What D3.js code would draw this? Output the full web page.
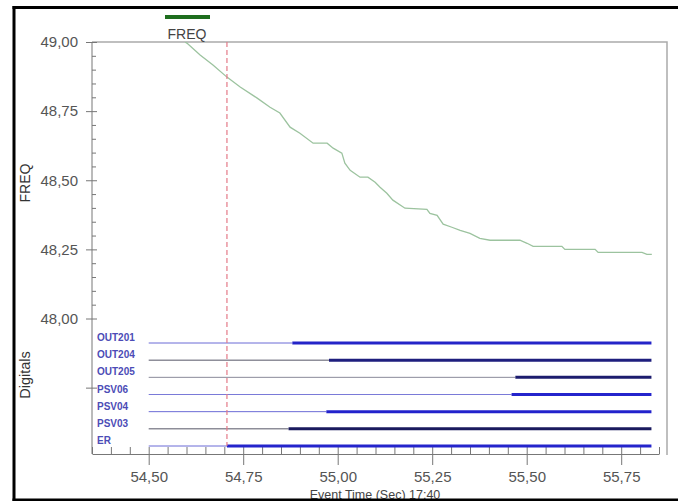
<!DOCTYPE html>
<html>
<head>
<meta charset="utf-8">
<script src="https://cdn.jsdelivr.net/npm/d3@7"></script>
<style>
  body { margin: 0; background: #fff; }
  svg { display: block; font-family: "Liberation Sans", Arial, sans-serif; }
</style>
</head>
<body>
<svg id="chart" width="678" height="501"></svg>
<script>
// frequency trace (sec, Hz)
const freqTime = [54.596, 54.601, 54.636, 54.670, 54.707, 54.742, 54.787, 54.821, 54.847, 54.874,
  54.900, 54.935, 54.972, 54.988, 55.011, 55.019, 55.033, 55.059, 55.080, 55.099,
  55.112, 55.130, 55.146, 55.178, 55.236, 55.244, 55.263, 55.279, 55.302, 55.324,
  55.350, 55.376, 55.403, 55.482, 55.501, 55.517, 55.593, 55.601, 55.681, 55.689,
  55.805, 55.818, 55.831];
const freqValue = [49.000, 48.996, 48.953, 48.917, 48.873, 48.837, 48.797, 48.764, 48.743, 48.692,
  48.670, 48.634, 48.634, 48.616, 48.598, 48.562, 48.536, 48.511, 48.511, 48.493,
  48.475, 48.453, 48.428, 48.399, 48.395, 48.380, 48.373, 48.341, 48.330, 48.319,
  48.308, 48.290, 48.283, 48.283, 48.272, 48.261, 48.261, 48.250, 48.250, 48.239,
  48.239, 48.232, 48.232];

// digital channels
const channels = ["OUT201", "OUT204", "OUT205", "PSV06", "PSV04", "PSV03", "ER"];
const channelOn = [54.88, 54.977, 55.47, 55.46, 54.97, 54.87, 54.707];
const channelOffColor = ["#6b6bd6", "#555566", "#8a8a99", "#7a7ad8", "#6b6bd6", "#555566", "#6b6bd6"];
const channelOnColor = ["#2424c8", "#1e1e7e", "#1c1c6e", "#2424cc", "#2222cc", "#1a1a5e", "#2424cc"];
const traceStart = 54.5;
const traceEnd = 55.83;
const cursorTime = 54.707;

const xMajor = [54.5, 54.75, 55.0, 55.25, 55.5, 55.75];
const yMajor = [48.0, 48.25, 48.5, 48.75, 49.0];
const fmt = d => d3.format(".2f")(d).replace(".", ",");

const svg = d3.select("#chart");

const mLeft = 92, mRight = 659, plotRight = 667, plotTop = 42, plotBottom = 454;

const x = d3.scaleLinear().domain([54.35, 55.85]).range([mLeft, mRight]);
const y = d3.scaleLinear().domain([48, 49]).range([318.5, plotTop]);
const row = d3.scalePoint().domain(channels).range([343, 446]);

// plot frame
svg.append("path")
  .attr("d", `M${mLeft},${plotTop}H${plotRight}V${plotBottom + 1}`)
  .attr("fill", "none")
  .attr("stroke", "#aaa")
  .attr("stroke-width", 1.5);

svg.append("line")
  .attr("x1", mLeft).attr("x2", mLeft)
  .attr("y1", plotTop).attr("y2", plotBottom)
  .attr("stroke", "#777");

// y axis
const yMinor = d3.range(48.05, 49.0, 0.05).map(v => +v.toFixed(2))
  .filter(v => !yMajor.includes(v));

svg.append("g")
  .attr("transform", `translate(${mLeft},0)`)
  .call(d3.axisRight(y).tickValues(yMinor).tickSize(4).tickFormat(""))
  .call(g => g.select(".domain").remove())
  .call(g => g.selectAll("line").attr("stroke", "#777"));

svg.append("g")
  .attr("transform", `translate(${mLeft + 5},0)`)
  .call(d3.axisLeft(y).tickValues(yMajor.concat([47.75])).tickSize(11).tickPadding(8)
    .tickFormat(d => d < 48 ? "" : fmt(d)))
  .call(g => g.select(".domain").remove())
  .call(g => g.selectAll("line").attr("stroke", "#777"))
  .call(g => g.selectAll("text").attr("fill", "#555").style("font-size", "15px"));

// x axis
const xMinor = d3.range(54.35, 55.86, 0.05).map(v => +v.toFixed(2))
  .filter(v => !xMajor.includes(v));

svg.append("g")
  .attr("transform", `translate(0,${plotBottom})`)
  .call(d3.axisTop(x).tickValues(xMinor).tickSize(7).tickSizeOuter(0).tickFormat(""))
  .call(g => g.select(".domain").attr("stroke", "#777"))
  .call(g => g.selectAll("line").attr("stroke", "#777"));

svg.append("g")
  .attr("transform", `translate(0,${plotBottom - 7})`)
  .call(d3.axisBottom(x).tickValues(xMajor).tickSize(18).tickPadding(6).tickFormat(fmt))
  .call(g => g.select(".domain").remove())
  .call(g => g.selectAll("line").attr("stroke", "#777"))
  .call(g => g.selectAll("text").attr("fill", "#555").style("font-size", "15px"));

// frequency trace
svg.append("defs").append("clipPath").attr("id", "plotclip")
  .append("rect").attr("x", mLeft).attr("y", plotTop)
  .attr("width", plotRight - mLeft).attr("height", plotBottom - plotTop);

const line = d3.line().x(i => x(freqTime[i])).y(i => y(freqValue[i]));

svg.append("path")
  .attr("clip-path", "url(#plotclip)")
  .attr("d", line(d3.range(freqTime.length)))
  .attr("fill", "none")
  .attr("stroke", "#9cc39f")
  .attr("stroke-width", 1.3);

// digitals
const dig = svg.append("g");
channels.forEach((c, i) => {
  dig.append("line")
    .attr("x1", x(traceStart)).attr("x2", x(channelOn[i]))
    .attr("y1", row(c)).attr("y2", row(c))
    .attr("stroke", channelOffColor[i])
    .attr("stroke-width", 1);
  dig.append("line")
    .attr("x1", x(channelOn[i])).attr("x2", x(traceEnd))
    .attr("y1", row(c)).attr("y2", row(c))
    .attr("stroke", channelOnColor[i])
    .attr("stroke-width", 3);
  dig.append("text")
    .attr("x", 97)
    .attr("y", row(c) - 2)
    .attr("fill", "#4c4cb6")
    .style("font-size", "10px")
    .style("font-weight", "bold")
    .text(c);
});

// cursor
svg.append("line")
  .attr("x1", x(cursorTime)).attr("x2", x(cursorTime))
  .attr("y1", plotTop).attr("y2", row("ER"))
  .attr("stroke", "#e47a88")
  .attr("stroke-width", 1.2)
  .attr("stroke-dasharray", "5,3");

// legend
svg.append("rect")
  .attr("x", 165).attr("y", 15).attr("width", 45).attr("height", 4)
  .attr("fill", "#1e6e1e");
svg.append("text")
  .attr("x", 187).attr("y", 38.5)
  .attr("text-anchor", "middle")
  .attr("fill", "#444")
  .style("font-size", "14px")
  .text("FREQ");

// axis titles
svg.append("text")
  .attr("transform", "translate(30,183) rotate(-90)")
  .attr("text-anchor", "middle")
  .attr("fill", "#333")
  .style("font-size", "14px")
  .text("FREQ");

svg.append("text")
  .attr("transform", "translate(30,375) rotate(-90)")
  .attr("text-anchor", "middle")
  .attr("fill", "#333")
  .style("font-size", "14.5px")
  .text("Digitals");

svg.append("text")
  .attr("x", 375).attr("y", 498.5)
  .attr("text-anchor", "middle")
  .attr("fill", "#444")
  .style("font-size", "12.5px")
  .text("Event Time (Sec)  17:40");

// outer frame
svg.append("line").attr("x1", 14).attr("x2", 14).attr("y1", 6).attr("y2", 501)
  .attr("stroke", "#000").attr("stroke-width", 3);
svg.append("line").attr("x1", 12.5).attr("x2", 678).attr("y1", 7.5).attr("y2", 7.5)
  .attr("stroke", "#000").attr("stroke-width", 3);
svg.append("rect").attr("x", 12.5).attr("y", 498.5).attr("width", 666).attr("height", 2.5)
  .attr("fill", "#000");
</script>
</body>
</html>
